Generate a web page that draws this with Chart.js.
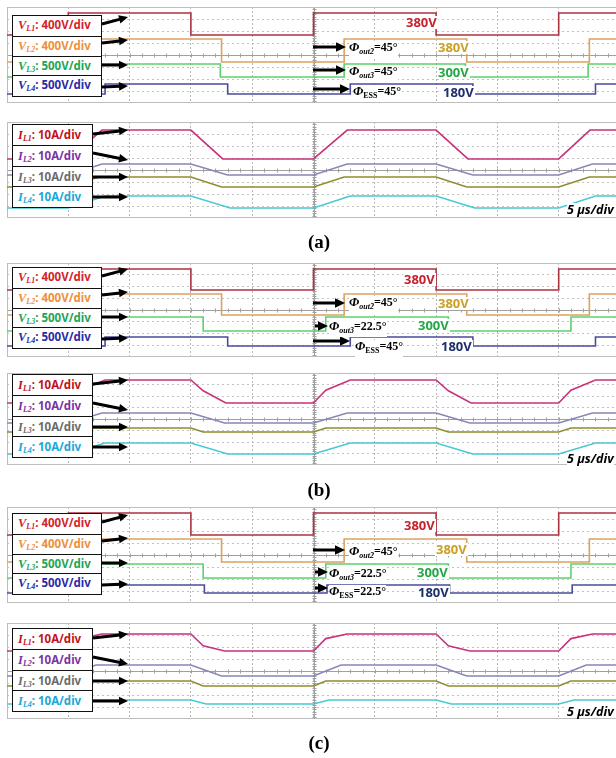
<!DOCTYPE html>
<html>
<head>
<meta charset="utf-8">
<script src="https://cdn.jsdelivr.net/npm/chart.js@4.4.0/dist/chart.umd.min.js"></script>
<style>
  body { margin: 0; width: 616px; height: 758px; overflow: hidden; background: #fff; position: relative; font-family: "Noto Sans", sans-serif; }
  .scope { position: absolute; left: 7px; }
  .scope canvas { display: block; }
  .box { position: absolute; left: 12px; border: 1.5px solid #111; background: #fff; box-sizing: border-box; }
  .box div { box-sizing: border-box; border-top: 1.5px solid #111; font-weight: bold; font-size: 11.5px; padding-left: 5px; white-space: nowrap; }
  .box div:first-child { border-top: none; }
  .box i { font-family: "Liberation Serif", serif; font-size: 12.5px; }
  .box sub { font-family: "Liberation Serif", serif; font-style: italic; font-size: 8px; vertical-align: -2px; }
  .val { position: absolute; font-weight: bold; font-size: 13px; line-height: 13px; background: #fff; padding: 0 1px; }
  .phi { position: absolute; font-family: "Liberation Serif", serif; font-weight: bold; font-size: 12px; line-height: 12px; background: #fff; white-space: nowrap; }
  .phi > i { font-size: 13px; }
  .phi sub { font-size: 8px; vertical-align: -3px; }
  .phi sub i { font-size: 8px; }
  .div5 { position: absolute; font-weight: bold; font-style: italic; font-size: 12.5px; line-height: 13px; background: #fff; white-space: nowrap; }
  .cap { position: absolute; left: 0; width: 638px; text-align: center; font-family: "Liberation Serif", serif; font-weight: bold; font-size: 19px; line-height: 20px; }
  svg { position: absolute; left: 0; top: 0; }
</style>
</head>
<body>

<div class="scope" style="top:7px"><canvas id="aV" width="613" height="96"></canvas></div>
<div class="scope" style="top:122px"><canvas id="aI" width="613" height="96"></canvas></div>
<div class="scope" style="top:263px"><canvas id="bV" width="613" height="94"></canvas></div>
<div class="scope" style="top:373px"><canvas id="bI" width="613" height="92"></canvas></div>
<div class="scope" style="top:507px"><canvas id="cV" width="613" height="96"></canvas></div>
<div class="scope" style="top:623px"><canvas id="cI" width="613" height="96"></canvas></div>

<svg id="arrows" width="616" height="758"></svg>

<script>
// x: time in divisions (5 us/div), y: level in divisions (8 div per screen)

/* (a) 전압 : 스텝 시각과 [low, high] */
const aVL1Edges = [1.0, 3.0, 5.0, 7.0, 9.0];
const aVL1Levels = [5.67, 7.5];
const aVL2Edges = [1.5, 3.5, 5.5, 7.5, 9.5];
const aVL2Levels = [3.42, 5.33];
const aVL3Edges = [1.5, 3.48, 5.5, 7.48, 9.48];
const aVL3Levels = [2.17, 3.25];
const aVL4Edges = [1.6, 3.6, 5.6, 7.6, 9.6];
const aVL4Levels = [0.75, 1.58];

/* (a) 전류 */
const aIL1T = [0, 1.0, 1.55, 3.0, 3.52, 5.0, 5.55, 7.0, 7.52, 9.0, 9.51, 10];
const aIL1Y = [4.92, 4.92, 7.33, 7.33, 4.92, 4.92, 7.33, 7.33, 4.92, 4.92, 7.33, 7.33];
const aIL2T = [0, 1.0, 1.55, 3.0, 3.6, 5.0, 5.55, 7.0, 7.6, 9.0, 9.55, 10];
const aIL2Y = [3.58, 3.58, 4.5, 4.5, 3.58, 3.58, 4.5, 4.5, 3.58, 3.58, 4.5, 4.5];
const aIL3T = [0, 1.0, 1.5, 3.0, 3.5, 5.0, 5.5, 7.0, 7.5, 9.0, 9.5, 10];
const aIL3Y = [2.58, 2.58, 3.42, 3.42, 2.58, 2.58, 3.42, 3.42, 2.58, 2.58, 3.42, 3.42];
const aIL4T = [0, 1.0, 1.6, 3.0, 3.64, 5.0, 5.6, 7.0, 7.63, 9.0, 9.6, 10];
const aIL4Y = [0.83, 0.83, 1.83, 1.83, 0.83, 0.83, 1.83, 1.83, 0.83, 0.83, 1.83, 1.83];

/* (b) 전압 */
const bVL1Edges = [1.0, 3.0, 5.0, 7.0, 9.0];
const bVL1Levels = [5.7, 7.49];
const bVL2Edges = [1.5, 3.5, 5.5, 7.5, 9.5];
const bVL2Levels = [3.57, 5.36];
const bVL3Edges = [1.2, 3.2, 5.2, 7.2, 9.2];
const bVL3Levels = [2.21, 3.4];
const bVL4Edges = [1.6, 3.6, 5.6, 7.6, 9.6];
const bVL4Levels = [0.94, 1.7];

/* (b) 전류 */
const bIL1T = [0, 1.0, 1.2, 1.6, 3.0, 3.2, 3.57, 5.0, 5.2, 5.6, 7.0, 7.2, 7.57, 9.0, 9.2, 9.6, 10];
const bIL1Y = [5.39, 5.39, 6.5, 7.39, 7.39, 6.45, 5.39, 5.39, 6.5, 7.39, 7.39, 6.45, 5.39, 5.39, 6.5, 7.39, 7.39];
const bIL2T = [0, 1.0, 1.55, 3.0, 3.55, 5.0, 5.55, 7.0, 7.55, 9.0, 9.55, 10];
const bIL2Y = [3.65, 3.65, 4.52, 4.52, 3.65, 3.65, 4.52, 4.52, 3.65, 3.65, 4.52, 4.52];
const bIL3T = [0, 1.0, 1.2, 3.0, 3.2, 5.0, 5.2, 7.0, 7.2, 9.0, 9.2, 10];
const bIL3Y = [2.87, 2.87, 3.22, 3.22, 2.87, 2.87, 3.22, 3.22, 2.87, 2.87, 3.22, 3.22];
const bIL4T = [0, 1.0, 1.6, 3.0, 3.6, 5.0, 5.6, 7.0, 7.6, 9.0, 9.6, 10];
const bIL4Y = [0.96, 0.96, 1.91, 1.91, 0.96, 0.96, 1.91, 1.91, 0.96, 0.96, 1.91, 1.91];

/* (c) 전압 */
const cVL1Edges = [1.0, 3.0, 5.0, 7.0, 9.0];
const cVL1Levels = [5.67, 7.5];
const cVL2Edges = [1.5, 3.5, 5.5, 7.5, 9.5];
const cVL2Levels = [3.42, 5.33];
const cVL3Edges = [1.2, 3.2, 5.2, 7.2, 9.2];
const cVL3Levels = [2.08, 3.25];
const cVL4Edges = [1.22, 3.22, 5.22, 7.22, 9.22];
const cVL4Levels = [0.83, 1.5];

/* (c) 전류 */
const cIL1T = [0, 1.0, 1.2, 1.55, 3.0, 3.2, 3.55, 5.0, 5.2, 5.55, 7.0, 7.2, 7.55, 9.0, 9.2, 9.55, 10];
const cIL1Y = [5.67, 5.67, 6.7, 7.08, 7.08, 6.1, 5.67, 5.67, 6.7, 7.08, 7.08, 6.1, 5.67, 5.67, 6.7, 7.08, 7.08];
const cIL2T = [0, 1.0, 1.45, 3.0, 3.5, 5.0, 5.45, 7.0, 7.5, 9.0, 9.45, 10];
const cIL2Y = [3.58, 3.58, 4.5, 4.5, 3.58, 3.58, 4.5, 4.5, 3.58, 3.58, 4.5, 4.5];
const cIL3T = [0, 1.0, 1.2, 3.0, 3.2, 5.0, 5.2, 7.0, 7.2, 9.0, 9.2, 10];
const cIL3Y = [2.75, 2.75, 3.17, 3.17, 2.75, 2.75, 3.17, 3.17, 2.75, 2.75, 3.17, 3.17];
const cIL4T = [0, 1.0, 1.25, 3.0, 3.25, 5.0, 5.25, 7.0, 7.25, 9.0, 9.25, 10];
const cIL4Y = [1.25, 1.25, 1.58, 1.58, 1.25, 1.25, 1.58, 1.58, 1.25, 1.25, 1.58, 1.58];

// 라벨
const voltLabels = [["V", "L1", ": 400V/div"], ["V", "L2", ": 400V/div"], ["V", "L3", ": 500V/div"], ["V", "L4", ": 500V/div"]];
const currLabels = [["I", "L1", ": 10A/div"], ["I", "L2", ": 10A/div"], ["I", "L3", ": 10A/div"], ["I", "L4", ": 10A/div"]];
const voltLabelColors = ["#d41f2b", "#ef9038", "#1ea653", "#2b2ba6"];
const currLabelColors = ["#c2121c", "#7b33a6", "#6b6b6b", "#1ca7d6"];
const vTraceColors = ["#ac3340", "#dba262", "#5fd06c", "#4b4b9e"];
const iTraceColors = ["#c9327c", "#8787b6", "#8d8d2e", "#48c9d3"];

function square(edges, levels) {
  let lvl = levels[0];
  const pts = [{ x: 0, y: lvl }];
  edges.forEach((t) => {
    pts.push({ x: t, y: lvl });
    lvl = lvl === levels[0] ? levels[1] : levels[0];
    pts.push({ x: t, y: lvl });
  });
  pts.push({ x: 10, y: lvl });
  return pts;
}

function trace(times, levels) {
  return times.map((t, i) => ({ x: t, y: levels[i] }));
}

// 오실로스코프 격자 (중앙선 + 눈금, 테두리)
const scopeFrame = {
  id: "scopeFrame",
  beforeDatasetsDraw(chart) {
    const { ctx, chartArea: a, scales } = chart;
    const cx = Math.round(scales.x.getPixelForValue(5)) + 0.5;
    const cy = Math.round(scales.y.getPixelForValue(4)) + 0.5;
    ctx.save();
    ctx.strokeStyle = "#a0a0a0";
    ctx.lineWidth = 1;
    ctx.beginPath();
    ctx.moveTo(a.left, cy);
    ctx.lineTo(a.right, cy);
    ctx.moveTo(cx, a.top);
    ctx.lineTo(cx, a.bottom);
    for (let v = 0; v <= 10.01; v += 0.2) {
      const px = Math.round(scales.x.getPixelForValue(v)) + 0.5;
      ctx.moveTo(px, cy - 2);
      ctx.lineTo(px, cy + 2);
    }
    for (let v = 0; v <= 8.01; v += 0.2) {
      const py = Math.round(scales.y.getPixelForValue(v)) + 0.5;
      ctx.moveTo(cx - 2, py);
      ctx.lineTo(cx + 2, py);
    }
    ctx.stroke();
    ctx.strokeStyle = "#bdbdbd";
    ctx.strokeRect(a.left + 0.5, a.top + 0.5, a.right - a.left - 1, a.bottom - a.top - 1);
    ctx.restore();
  },
};

function makeScope(id, series, colors) {
  new Chart(document.getElementById(id), {
    type: "line",
    data: {
      datasets: series.map((pts, i) => ({
        data: pts,
        borderColor: colors[i],
        borderWidth: 1.6,
        pointRadius: 0,
        tension: 0,
      })),
    },
    options: {
      responsive: false,
      animation: false,
      events: [],
      layout: { padding: 0 },
      plugins: { legend: { display: false }, tooltip: { enabled: false } },
      scales: {
        x: {
          type: "linear",
          min: 0,
          max: 10,
          ticks: { display: false, stepSize: 1 },
          grid: { color: "#b8b8b8", drawTicks: false },
          border: { display: false, dash: [2, 2] },
        },
        y: {
          type: "linear",
          min: 0,
          max: 8,
          ticks: { display: false, stepSize: 1 },
          grid: { color: "#c2c2c2", drawTicks: false },
          border: { display: false, dash: [2, 3] },
        },
      },
    },
    plugins: [scopeFrame],
  });
}

makeScope("aV", [square(aVL1Edges, aVL1Levels), square(aVL2Edges, aVL2Levels), square(aVL3Edges, aVL3Levels), square(aVL4Edges, aVL4Levels)], vTraceColors);
makeScope("aI", [trace(aIL1T, aIL1Y), trace(aIL2T, aIL2Y), trace(aIL3T, aIL3Y), trace(aIL4T, aIL4Y)], iTraceColors);
makeScope("bV", [square(bVL1Edges, bVL1Levels), square(bVL2Edges, bVL2Levels), square(bVL3Edges, bVL3Levels), square(bVL4Edges, bVL4Levels)], vTraceColors);
makeScope("bI", [trace(bIL1T, bIL1Y), trace(bIL2T, bIL2Y), trace(bIL3T, bIL3Y), trace(bIL4T, bIL4Y)], iTraceColors);
makeScope("cV", [square(cVL1Edges, cVL1Levels), square(cVL2Edges, cVL2Levels), square(cVL3Edges, cVL3Levels), square(cVL4Edges, cVL4Levels)], vTraceColors);
makeScope("cI", [trace(cIL1T, cIL1Y), trace(cIL2T, cIL2Y), trace(cIL3T, cIL3Y), trace(cIL4T, cIL4Y)], iTraceColors);

/* 채널 라벨 박스 */
function addBox(top, width, height, labels, colors) {
  const box = document.createElement("div");
  box.className = "box";
  box.style.top = top + "px";
  box.style.width = width + "px";
  box.style.height = height + "px";
  const rowH = (height - 3) / 4;
  labels.forEach((l, i) => {
    const row = document.createElement("div");
    row.style.height = rowH + "px";
    row.style.lineHeight = rowH - 1 + "px";
    row.style.color = colors[i];
    row.innerHTML = `<i>${l[0]}</i><sub>${l[1]}</sub>${l[2]}`;
    box.appendChild(row);
  });
  document.body.appendChild(box);
}
[15, 267, 513].forEach((t) => addBox(t, 90, 82, voltLabels, voltLabelColors));
[124, 374, 628].forEach((t) => addBox(t, 81, 84, currLabels, currLabelColors));

/* 화살표 */
const svg = document.getElementById("arrows");
function arrow(x1, y1, x2, y2, w, head) {
  const dx = x2 - x1, dy = y2 - y1;
  const len = Math.hypot(dx, dy);
  const ux = dx / len, uy = dy / len;
  const bx = x2 - ux * head, by = y2 - uy * head;
  const hw = head * 0.48;
  const ns = "http://www.w3.org/2000/svg";
  const line = document.createElementNS(ns, "line");
  line.setAttribute("x1", x1); line.setAttribute("y1", y1);
  line.setAttribute("x2", bx + ux); line.setAttribute("y2", by + uy);
  line.setAttribute("stroke", "#000"); line.setAttribute("stroke-width", w);
  svg.appendChild(line);
  const tri = document.createElementNS(ns, "polygon");
  tri.setAttribute("points", `${x2},${y2} ${bx - uy * hw},${by + ux * hw} ${bx + uy * hw},${by - ux * hw}`);
  tri.setAttribute("fill", "#000");
  svg.appendChild(tri);
}
[15, 267, 513].forEach((t) => {
  arrow(102, t + 9, 128, t + 2, 3, 9);
  arrow(102, t + 28, 128, t + 25, 3, 9);
  arrow(102, t + 50, 128, t + 50, 3, 9);
  arrow(102, t + 72, 128, t + 71, 3, 9);
});
[124, 374, 628].forEach((t) => {
  arrow(93, t + 10, 128, t + 6, 3, 9);
  arrow(93, t + 29, 128, t + 36, 3, 9);
  arrow(93, t + 53, 128, t + 53, 3, 9);
  arrow(93, t + 73, 128, t + 73, 3, 9);
});
[[313, 47, 346], [313, 70, 346], [313, 89, 350],
 [313, 303, 345], [315, 326, 328], [313, 341, 350],
 [313, 550, 345], [315, 572, 328], [315, 588, 328]].forEach((a) => arrow(a[0], a[1], a[2], a[1], 3, 10));

/* 텍스트 */
function addText(cls, left, top, html, color) {
  const d = document.createElement("div");
  d.className = cls;
  d.style.left = left + "px";
  d.style.top = top + "px";
  if (color) d.style.color = color;
  d.innerHTML = html;
  document.body.appendChild(d);
}
const valRed = "#c5222e", valGold = "#c9a026", valGreen = "#23a845", valNavy = "#1f2e6c";
[[405, 16, valRed, "380V"], [437, 41, valGold, "380V"], [437, 66, valGreen, "300V"], [442, 86, valNavy, "180V"],
 [403, 273, valRed, "380V"], [437, 297, valGold, "380V"], [417, 319, valGreen, "300V"], [440, 340, valNavy, "180V"],
 [403, 519, valRed, "380V"], [435, 543, valGold, "380V"], [416, 566, valGreen, "300V"], [417, 586, valNavy, "180V"]]
  .forEach((v) => addText("val", v[0], v[1], v[3], v[2]));

[[349, 41, "<i>out2</i>", "45°"], [349, 65, "<i>out3</i>", "45°"], [353, 85, "ESS", "45°"],
 [349, 296, "<i>out2</i>", "45°"], [329, 320, "<i>out3</i>", "22.5°"], [355, 340, "ESS", "45°"],
 [349, 545, "<i>out2</i>", "45°"], [329, 567, "<i>out3</i>", "22.5°"], [329, 585, "ESS", "22.5°"]]
  .forEach((p) => addText("phi", p[0], p[1], `<i>Φ</i><sub>${p[2]}</sub>=${p[3]}`));

[203, 452, 705].forEach((t) => addText("div5", 567, t, "5 µs/div"));
[["(a)", 232], ["(b)", 480], ["(c)", 733]].forEach((c) => addText("cap", 0, c[1], c[0]));
</script>
</body>
</html>
